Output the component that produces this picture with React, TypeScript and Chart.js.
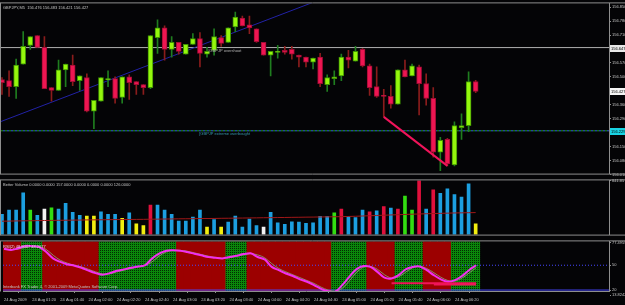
import React, { useEffect, useRef } from 'react';
import { Chart, registerables } from 'chart.js';

Chart.register(...registerables);

// ---------------- data ----------------
const chartTitle = 'GBPJPY,M5  156.476 156.483 156.421 156.427';
const volumeTitle = 'Better Volume 0.0000 0.0000 157.0000 0.0000 0.0000 0.0000 126.0000';
const rsiTitle = 'RSI(2) 48.9007 48.2077';
const copyrightText = 'Interbank FX Trader 4, © 2001-2009 MetaQuotes Software Corp.';

const timeLabels = [
  '24 Aug 2009', '24 Aug 01:20', '24 Aug 01:40', '24 Aug 02:00', '24 Aug 02:20',
  '24 Aug 02:40', '24 Aug 03:00', '24 Aug 03:20', '24 Aug 03:40', '24 Aug 04:00',
  '24 Aug 04:20', '24 Aug 04:40', '24 Aug 05:00', '24 Aug 05:20', '24 Aug 05:40',
  '24 Aug 06:00', '24 Aug 06:20',
];
const timeLabelBars = [0, 4, 8, 12, 16, 20, 24, 28, 32, 36, 40, 44, 48, 52, 56, 60, 64];

const opens = [
  156.486, 156.481, 156.451, 156.564, 156.658, 156.707, 156.648, 156.446, 156.432, 156.535,
  156.559, 156.481, 156.496, 156.328, 156.378, 156.486, 156.491, 156.397, 156.500, 156.476,
  156.461, 156.446, 156.697, 156.746, 156.638, 156.673, 156.614, 156.663, 156.692, 156.614,
  156.633, 156.697, 156.673, 156.751, 156.795, 156.761, 156.741, 156.673, 156.609, 156.623,
  156.633, 156.638, 156.609, 156.599, 156.574, 156.599, 156.461, 156.491, 156.505, 156.599,
  156.579, 156.638, 156.555, 156.451, 156.407, 156.402, 156.363, 156.535, 156.505, 156.550,
  156.466, 156.392, 156.122, 156.186, 156.058, 156.245, 156.255, 156.476,
];
const highs = [
  156.496, 156.530, 156.589, 156.727, 156.702, 156.707, 156.702, 156.446, 156.584, 156.564,
  156.609, 156.505, 156.515, 156.382, 156.496, 156.530, 156.500, 156.500, 156.510, 156.476,
  156.461, 156.707, 156.786, 156.756, 156.702, 156.673, 156.663, 156.717, 156.722, 156.648,
  156.741, 156.707, 156.746, 156.825, 156.805, 156.805, 156.741, 156.673, 156.628, 156.658,
  156.653, 156.653, 156.609, 156.599, 156.594, 156.618, 156.510, 156.530, 156.614, 156.633,
  156.653, 156.643, 156.564, 156.550, 156.437, 156.456, 156.535, 156.584, 156.564, 156.559,
  156.515, 156.446, 156.196, 156.191, 156.274, 156.314, 156.525, 156.483,
];
const lows = [
  156.412, 156.402, 156.392, 156.564, 156.638, 156.648, 156.441, 156.378, 156.432, 156.451,
  156.456, 156.432, 156.324, 156.240, 156.378, 156.451, 156.368, 156.368, 156.387, 156.412,
  156.412, 156.441, 156.618, 156.584, 156.599, 156.614, 156.614, 156.663, 156.550, 156.599,
  156.609, 156.653, 156.673, 156.727, 156.756, 156.717, 156.673, 156.609, 156.505, 156.594,
  156.614, 156.589, 156.550, 156.550, 156.540, 156.451, 156.427, 156.461, 156.481, 156.545,
  156.579, 156.550, 156.407, 156.397, 156.299, 156.343, 156.363, 156.500, 156.505, 156.309,
  156.358, 156.097, 156.029, 156.053, 156.053, 156.186, 156.225, 156.421,
];
const closes = [
  156.471, 156.451, 156.559, 156.653, 156.702, 156.648, 156.441, 156.432, 156.535, 156.564,
  156.476, 156.505, 156.328, 156.382, 156.496, 156.491, 156.392, 156.500, 156.471, 156.461,
  156.446, 156.707, 156.746, 156.638, 156.673, 156.628, 156.663, 156.692, 156.618, 156.628,
  156.702, 156.668, 156.746, 156.800, 156.756, 156.746, 156.677, 156.609, 156.628, 156.628,
  156.623, 156.614, 156.599, 156.574, 156.594, 156.466, 156.496, 156.500, 156.599, 156.584,
  156.628, 156.555, 156.446, 156.402, 156.402, 156.363, 156.535, 156.500, 156.555, 156.466,
  156.392, 156.122, 156.181, 156.063, 156.255, 156.255, 156.476, 156.427,
];

const priceTicks = [
  156.850, 156.780, 156.710, 156.640, 156.570, 156.500, 156.430,
  156.360, 156.290, 156.220, 156.150, 156.080, 156.010,
];
const priceMin = 156.014;
const priceMax = 156.869;
const lastPrice = 156.427;
const overshootLevel = 156.647;
const extremeLevel = 156.229;
const trendBars = [-1, 45];
const trendPrices = [156.264, 156.888];
const zigzagBars = [54, 63];
const zigzagPrices = [156.299, 156.053];

const volumes = [
  316, 379, 379, 647, 379, 300, 395, 416, 395, 484,
  347, 300, 289, 289, 353, 316, 316, 253, 337, 168,
  142, 458, 458, 379, 316, 210, 210, 274, 379, 116,
  232, 116, 195, 289, 116, 242, 142, 116, 347, 184,
  158, 200, 195, 174, 184, 284, 284, 337, 395, 279,
  263, 379, 353, 368, 437, 410, 395, 600, 379, 842,
  395, 695, 642, 711, 621, 584, 790, 168,
];
const volumeKinds = [
  'b', 'b', 'b', 'b', 'g', 'b', 'w', 'g', 'b', 'b',
  'b', 'b', 'y', 'y', 'b', 'b', 'b', 'y', 'b', 'y',
  'y', 'r', 'b', 'b', 'b', 'b', 'b', 'b', 'b', 'y',
  'b', 'y', 'b', 'b', 'b', 'b', 'b', 'w', 'b', 'b',
  'b', 'b', 'b', 'b', 'b', 'b', 'b', 'g', 'r', 'b',
  'b', 'b', 'r', 'b', 'r', 'b', 'r', 'g', 'g', 'r',
  'b', 'r', 'b', 'b', 'b', 'b', 'b', 'y',
];
const volumeAverage = [
  208, 210, 212, 214, 215, 217, 219, 220, 222, 223,
  225, 226, 228, 229, 230, 232, 233, 234, 235, 236,
  237, 239, 240, 242, 243, 245, 246, 247, 249, 250,
  251, 253, 254, 256, 257, 259, 260, 262, 263, 265,
  266, 268, 269, 271, 272, 274, 276, 277, 279, 282,
  285, 289, 293, 297, 301, 305, 309, 313, 317, 320,
  324, 327, 330, 333, 336, 338, 340, 342,
];
const volumeMax = 841.85;

const rsiValues = [
  70, 68.5, 70.5, 73.3, 73, 72, 66, 58, 54, 51,
  49.5, 47, 43.5, 40.5, 38.5, 40.5, 43.3, 45, 47, 48.5,
  50, 58, 64, 67.6, 68, 67.6, 66, 64, 62, 60,
  59, 58.3, 60, 61.5, 63.5, 64.5, 60, 57, 48, 44,
  40, 37, 33, 30, 26, 21.5, 18.5, 18, 26, 36,
  45, 49, 48, 42, 35, 34, 38, 45, 48, 48.5,
  44, 38, 33, 30, 32, 37, 44, 50,
];
const rsiSignal = [
  69, 69, 69.5, 71.5, 73, 72.5, 69, 62, 56, 52.5,
  50, 48, 45, 42, 39.5, 39.5, 42, 44, 46, 48,
  49.5, 54, 61, 66, 68, 68, 67, 65, 63, 61,
  59.5, 58.5, 59, 61, 62.5, 64, 62.5, 59, 52, 46,
  42, 38.5, 35, 31.5, 28, 23.5, 20, 18.5, 22, 31,
  41, 47.5, 48.5, 45, 38.5, 34.5, 36, 41.5, 47, 48.5,
  46, 41, 35.5, 31.5, 31, 34.5, 40.5, 47,
];
const rsiTrend = [
  'd', 'd', 'd', 'u', 'u', 'u', 'd', 'd', 'd', 'd',
  'd', 'd', 'd', 'd', 'u', 'u', 'u', 'u', 'u', 'u',
  'u', 'u', 'u', 'u', 'u', 'd', 'd', 'd', 'd', 'd',
  'd', 'd', 'u', 'u', 'u', 'd', 'd', 'd', 'd', 'd',
  'd', 'd', 'd', 'd', 'd', 'd', 'd', 'u', 'u', 'u',
  'u', 'u', 'd', 'd', 'd', 'd', 'u', 'u', 'u', 'u',
  'd', 'd', 'd', 'd', 'u', 'u', 'u', 'u',
];
const rsiMin = 18.85;
const rsiMax = 78.85;
const rsiTicks = [77.4959, 50, 20, 13.8242];
const rsiTickLabels = ['77.4959', '50', '20', '13.8242'];
const rsiLevels = [50, 20];
const divergenceA = { bars: [55, 67], value: 28.2 };
const divergenceB = { bars: [61, 67], value: 26.7 };

// ---------------- layout / style ----------------
const FONT = 'Liberation Sans';
const AXIS_W = 16;
const X_MIN = -0.14;
const X_MAX = 85.86;
const FRAME = '#8e8e8e';
const TEXT = '#c4c4c4';

function drawText(ctx: CanvasRenderingContext2D, s: string, x: number, y: number, color: string) {
  ctx.save();
  ctx.font = `4px "${FONT}"`;
  ctx.fillStyle = color;
  ctx.textBaseline = 'middle';
  ctx.textAlign = 'left';
  ctx.fillText(s, x, y);
  ctx.restore();
}

function hLine(ctx: CanvasRenderingContext2D, y: number, x0: number, x1: number, color: string) {
  ctx.save();
  ctx.strokeStyle = color;
  ctx.lineWidth = 1;
  ctx.beginPath();
  ctx.moveTo(x0, y);
  ctx.lineTo(x1, y);
  ctx.stroke();
  ctx.restore();
}
function vLine(ctx: CanvasRenderingContext2D, x: number, y0: number, y1: number, color: string) {
  ctx.save();
  ctx.strokeStyle = color;
  ctx.lineWidth = 1;
  ctx.beginPath();
  ctx.moveTo(x, y0);
  ctx.lineTo(x, y1);
  ctx.stroke();
  ctx.restore();
}

const bgPlugin = {
  id: 'blackBg',
  beforeDraw(chart: any) {
    const ctx = chart.ctx;
    ctx.save();
    ctx.fillStyle = '#040406';
    ctx.fillRect(0, 0, chart.width, chart.height);
    ctx.restore();
  },
};

function overlay(id: string, fn: (chart: any) => void) {
  return { id, afterDraw: fn };
}

const baseOptions = (padding: any) => ({
  responsive: false,
  animation: false as const,
  devicePixelRatio: 1,
  events: [] as any[],
  layout: { padding },
  plugins: {
    legend: { display: false },
    tooltip: { enabled: false },
    title: { display: false },
  },
});

const xHidden = { type: 'linear' as const, min: X_MIN, max: X_MAX, offset: false, display: false };

function rightAxis(min: number, max: number, ticks: number[], label: (v: number) => string) {
  return {
    type: 'linear' as const,
    position: 'right' as const,
    min,
    max,
    afterFit: (s: any) => { s.width = AXIS_W; },
    afterBuildTicks: (s: any) => { s.ticks = ticks.map((v) => ({ value: v })); },
    ticks: {
      autoSkip: false,
      padding: 1,
      color: TEXT,
      font: { family: FONT, size: 4 },
      callback: (v: any) => label(Number(v)),
    },
    grid: { drawOnChartArea: false, drawTicks: true, tickLength: 2, color: FRAME },
    border: { display: true, color: FRAME },
  };
}

export default function App() {
  const mainRef = useRef<HTMLCanvasElement>(null);
  const volRef = useRef<HTMLCanvasElement>(null);
  const rsiRef = useRef<HTMLCanvasElement>(null);

  useEffect(() => {
    const charts: Chart[] = [];
    const idx = opens.map((_, i) => i);
    const bull = idx.map((i) => closes[i] >= opens[i]);

    // ---------- main price chart ----------
    const mainCtx = mainRef.current!.getContext('2d')!;
    charts.push(new Chart(mainCtx, {
      type: 'bar',
      data: {
        datasets: [
          {
            type: 'line',
            data: zigzagBars.map((b, k) => ({ x: b, y: zigzagPrices[k] })),
            borderColor: '#f0145a',
            borderWidth: 2,
            pointRadius: 0,
            clip: 0,
            order: 0,
          } as any,
          {
            type: 'bar',
            data: idx.map((i) => {
              const lo = Math.min(opens[i], closes[i]);
              const hi = Math.max(Math.max(opens[i], closes[i]), lo + 0.004);
              return { x: i, y: [lo, hi] };
            }),
            backgroundColor: idx.map((i) => (bull[i] ? '#95f70d' : '#ee1652')),
            borderColor: idx.map((i) => (bull[i] ? '#3f9400' : '#a10c34')),
            borderWidth: 1,
            borderSkipped: false,
            barThickness: 5,
            grouped: false,
            order: 1,
          } as any,
          {
            type: 'bar',
            data: idx.map((i) => ({ x: i, y: [lows[i], highs[i]] })),
            backgroundColor: idx.map((i) => (bull[i] ? '#1f7d1f' : '#8a1c1c')),
            borderWidth: 0,
            barThickness: 1,
            grouped: false,
            order: 2,
          } as any,
          {
            type: 'line',
            data: trendBars.map((b, k) => ({ x: b, y: trendPrices[k] })),
            borderColor: '#2222a6',
            borderWidth: 1,
            pointRadius: 0,
            clip: 0,
            order: 3,
          } as any,
          {
            type: 'line',
            data: [{ x: X_MIN, y: overshootLevel }, { x: X_MAX, y: overshootLevel }],
            borderColor: '#b0b0b0',
            borderWidth: 1,
            pointRadius: 0,
            order: 4,
          } as any,
          {
            type: 'line',
            data: [{ x: X_MIN, y: extremeLevel }, { x: X_MAX, y: extremeLevel }],
            borderColor: '#1f9a1f',
            borderWidth: 1,
            borderDash: [2, 2],
            pointRadius: 0,
            order: 4,
          } as any,
          {
            type: 'line',
            data: [{ x: X_MIN, y: extremeLevel }, { x: X_MAX, y: extremeLevel }],
            borderColor: '#3160d8',
            borderWidth: 1,
            borderDash: [2, 2],
            borderDashOffset: 2,
            pointRadius: 0,
            order: 4,
          } as any,
        ],
      },
      options: {
        ...baseOptions({ left: 1, top: 2, bottom: 1, right: 0 }),
        scales: {
          x: xHidden,
          y: rightAxis(priceMin, priceMax, priceTicks, (v) => v.toFixed(3)),
        },
      } as any,
      plugins: [
        bgPlugin,
        overlay('mainOverlay', (chart: any) => {
          const ctx = chart.ctx as CanvasRenderingContext2D;
          const a = chart.chartArea;
          const xs = chart.scales.x;
          const ys = chart.scales.y;
          hLine(ctx, a.top - 0.5, 0, chart.width, FRAME);
          hLine(ctx, a.bottom + 0.5, 0, chart.width, FRAME);
          vLine(ctx, 0.5, a.top - 0.5, a.bottom + 0.5, FRAME);
          drawText(ctx, chartTitle, 3, a.top + 4, TEXT);
          drawText(ctx, '[GBPJP overshoot', xs.getPixelForValue(29.2), ys.getPixelForValue(overshootLevel) + 3, '#b4b4b4');
          drawText(ctx, '[GBPJP extreme overbought', xs.getPixelForValue(27.9), ys.getPixelForValue(extremeLevel) + 3, '#3a95a8');
          const box = (v: number, fill: string) => {
            const y = Math.round(ys.getPixelForValue(v));
            ctx.save();
            ctx.fillStyle = fill;
            ctx.fillRect(a.right + 1, y - 3, AXIS_W - 1, 7);
            ctx.restore();
            drawText(ctx, v.toFixed(3), a.right + 2, y + 0.5, '#000000');
          };
          box(overshootLevel, '#e8e8e8');
          box(lastPrice, '#f4f4f4');
          box(extremeLevel, '#19d3e3');
        }),
      ],
    }));

    // ---------- volume chart ----------
    const colorOf: Record<string, string> = {
      b: '#1c9fe0', g: '#33dd11', w: '#f2f2f2', y: '#f2ee10', r: '#e0103c',
    };
    const volCtx = volRef.current!.getContext('2d')!;
    charts.push(new Chart(volCtx, {
      type: 'bar',
      data: {
        datasets: [
          {
            type: 'line',
            data: idx.map((i) => ({ x: i, y: volumeAverage[i] })),
            borderColor: '#a01818',
            borderWidth: 1,
            pointRadius: 0,
            order: 0,
          } as any,
          {
            type: 'bar',
            data: idx.map((i) => ({ x: i, y: volumes[i] })),
            backgroundColor: idx.map((i) => colorOf[volumeKinds[i]]),
            borderWidth: 0,
            barThickness: 3,
            order: 1,
          } as any,
        ],
      },
      options: {
        ...baseOptions({ left: 1, top: 2, bottom: 1, right: 0 }),
        scales: {
          x: xHidden,
          y: rightAxis(0, volumeMax, [volumeMax], (v) => v.toFixed(2)),
        },
      } as any,
      plugins: [
        bgPlugin,
        overlay('volOverlay', (chart: any) => {
          const ctx = chart.ctx as CanvasRenderingContext2D;
          const a = chart.chartArea;
          hLine(ctx, a.top - 0.5, 0, chart.width, FRAME);
          hLine(ctx, a.bottom + 0.5, 0, chart.width, FRAME);
          vLine(ctx, 0.5, a.top - 0.5, a.bottom + 0.5, FRAME);
          drawText(ctx, volumeTitle, 3, a.top + 4.5, TEXT);
        }),
      ],
    }));

    // ---------- RSI chart ----------
    const rsiCtx = rsiRef.current!.getContext('2d')!;
    const pc = document.createElement('canvas');
    pc.width = 2;
    pc.height = 2;
    const pg = pc.getContext('2d')!;
    pg.fillStyle = '#0a870a';
    pg.fillRect(0, 0, 2, 2);
    pg.fillStyle = '#022a02';
    pg.fillRect(0, 0, 1, 1);
    const greenPattern = rsiCtx.createPattern(pc, 'repeat')!;

    charts.push(new Chart(rsiCtx, {
      type: 'bar',
      data: {
        datasets: [
          {
            type: 'line',
            data: divergenceA.bars.map((b) => ({ x: b, y: divergenceA.value })),
            borderColor: '#f0145a',
            borderWidth: 2,
            pointRadius: 0,
            order: 0,
          } as any,
          {
            type: 'line',
            data: divergenceB.bars.map((b) => ({ x: b, y: divergenceB.value })),
            borderColor: '#f0145a',
            borderWidth: 2,
            pointRadius: 0,
            order: 0,
          } as any,
          {
            type: 'line',
            data: idx.map((i) => ({ x: i, y: rsiValues[i] })),
            borderColor: '#f22ef0',
            borderWidth: 2,
            pointRadius: 0,
            tension: 0.35,
            order: 1,
          } as any,
          {
            type: 'line',
            data: idx.map((i) => ({ x: i, y: rsiSignal[i] })),
            borderColor: '#8a8a6a',
            borderWidth: 1,
            pointRadius: 0,
            tension: 0.35,
            order: 2,
          } as any,
          {
            type: 'line',
            data: [{ x: X_MIN, y: rsiLevels[0] }, { x: X_MAX, y: rsiLevels[0] }],
            borderColor: '#4646ff',
            borderWidth: 1,
            borderDash: [1, 2],
            pointRadius: 0,
            order: 3,
          } as any,
          {
            type: 'line',
            data: [{ x: X_MIN, y: rsiLevels[1] }, { x: X_MAX, y: rsiLevels[1] }],
            borderColor: '#4646ff',
            borderWidth: 1,
            pointRadius: 0,
            order: 3,
          } as any,
          {
            type: 'bar',
            data: idx.map((i) => ({ x: i, y: [rsiMin, rsiMax] })),
            backgroundColor: idx.map((i) => (rsiTrend[i] === 'u' ? greenPattern : '#9c0000')),
            borderWidth: 0,
            barPercentage: 1,
            categoryPercentage: 1,
            inflateAmount: 0.5,
            grouped: false,
            order: 10,
          } as any,
        ],
      },
      options: {
        ...baseOptions({ left: 1, top: 1, bottom: 0, right: 0 }),
        scales: {
          x: {
            type: 'linear',
            min: X_MIN,
            max: X_MAX,
            offset: false,
            afterFit: (s: any) => { s.height = 14; },
            afterBuildTicks: (s: any) => { s.ticks = timeLabelBars.map((v) => ({ value: v })); },
            ticks: {
              autoSkip: false,
              maxRotation: 0,
              minRotation: 0,
              align: 'start',
              padding: 4,
              color: TEXT,
              font: { family: FONT, size: 4 },
              callback: (v: any) => {
                const k = timeLabelBars.indexOf(Number(v));
                return k >= 0 ? timeLabels[k] : '';
              },
            },
            grid: { drawOnChartArea: false, drawTicks: true, tickLength: 2, color: FRAME },
            border: { display: true, color: FRAME },
          },
          y: rightAxis(rsiMin, rsiMax, rsiTicks, (v) => {
            const k = rsiTicks.indexOf(v);
            return k >= 0 ? rsiTickLabels[k] : '';
          }),
        },
      } as any,
      plugins: [
        bgPlugin,
        overlay('rsiOverlay', (chart: any) => {
          const ctx = chart.ctx as CanvasRenderingContext2D;
          const a = chart.chartArea;
          hLine(ctx, a.top - 0.5, 0, chart.width, FRAME);
          vLine(ctx, 0.5, a.top - 0.5, a.bottom + 0.5, FRAME);
          drawText(ctx, rsiTitle, 3, a.top + 5, '#e6d2e6');
          drawText(ctx, copyrightText, 3, a.bottom - 4, TEXT);
        }),
      ],
    }));

    return () => charts.forEach((c) => c.destroy());
  }, []);

  return (
    <div style={{ position: 'fixed', left: 0, top: 0, width: 625, height: 305, background: '#040406', overflow: 'hidden' }}>
      <canvas ref={mainRef} width={625} height={177} style={{ position: 'absolute', left: 0, top: 0 }} />
      <canvas ref={volRef} width={625} height={61} style={{ position: 'absolute', left: 0, top: 177 }} />
      <canvas ref={rsiRef} width={625} height={67} style={{ position: 'absolute', left: 0, top: 238 }} />
    </div>
  );
}
